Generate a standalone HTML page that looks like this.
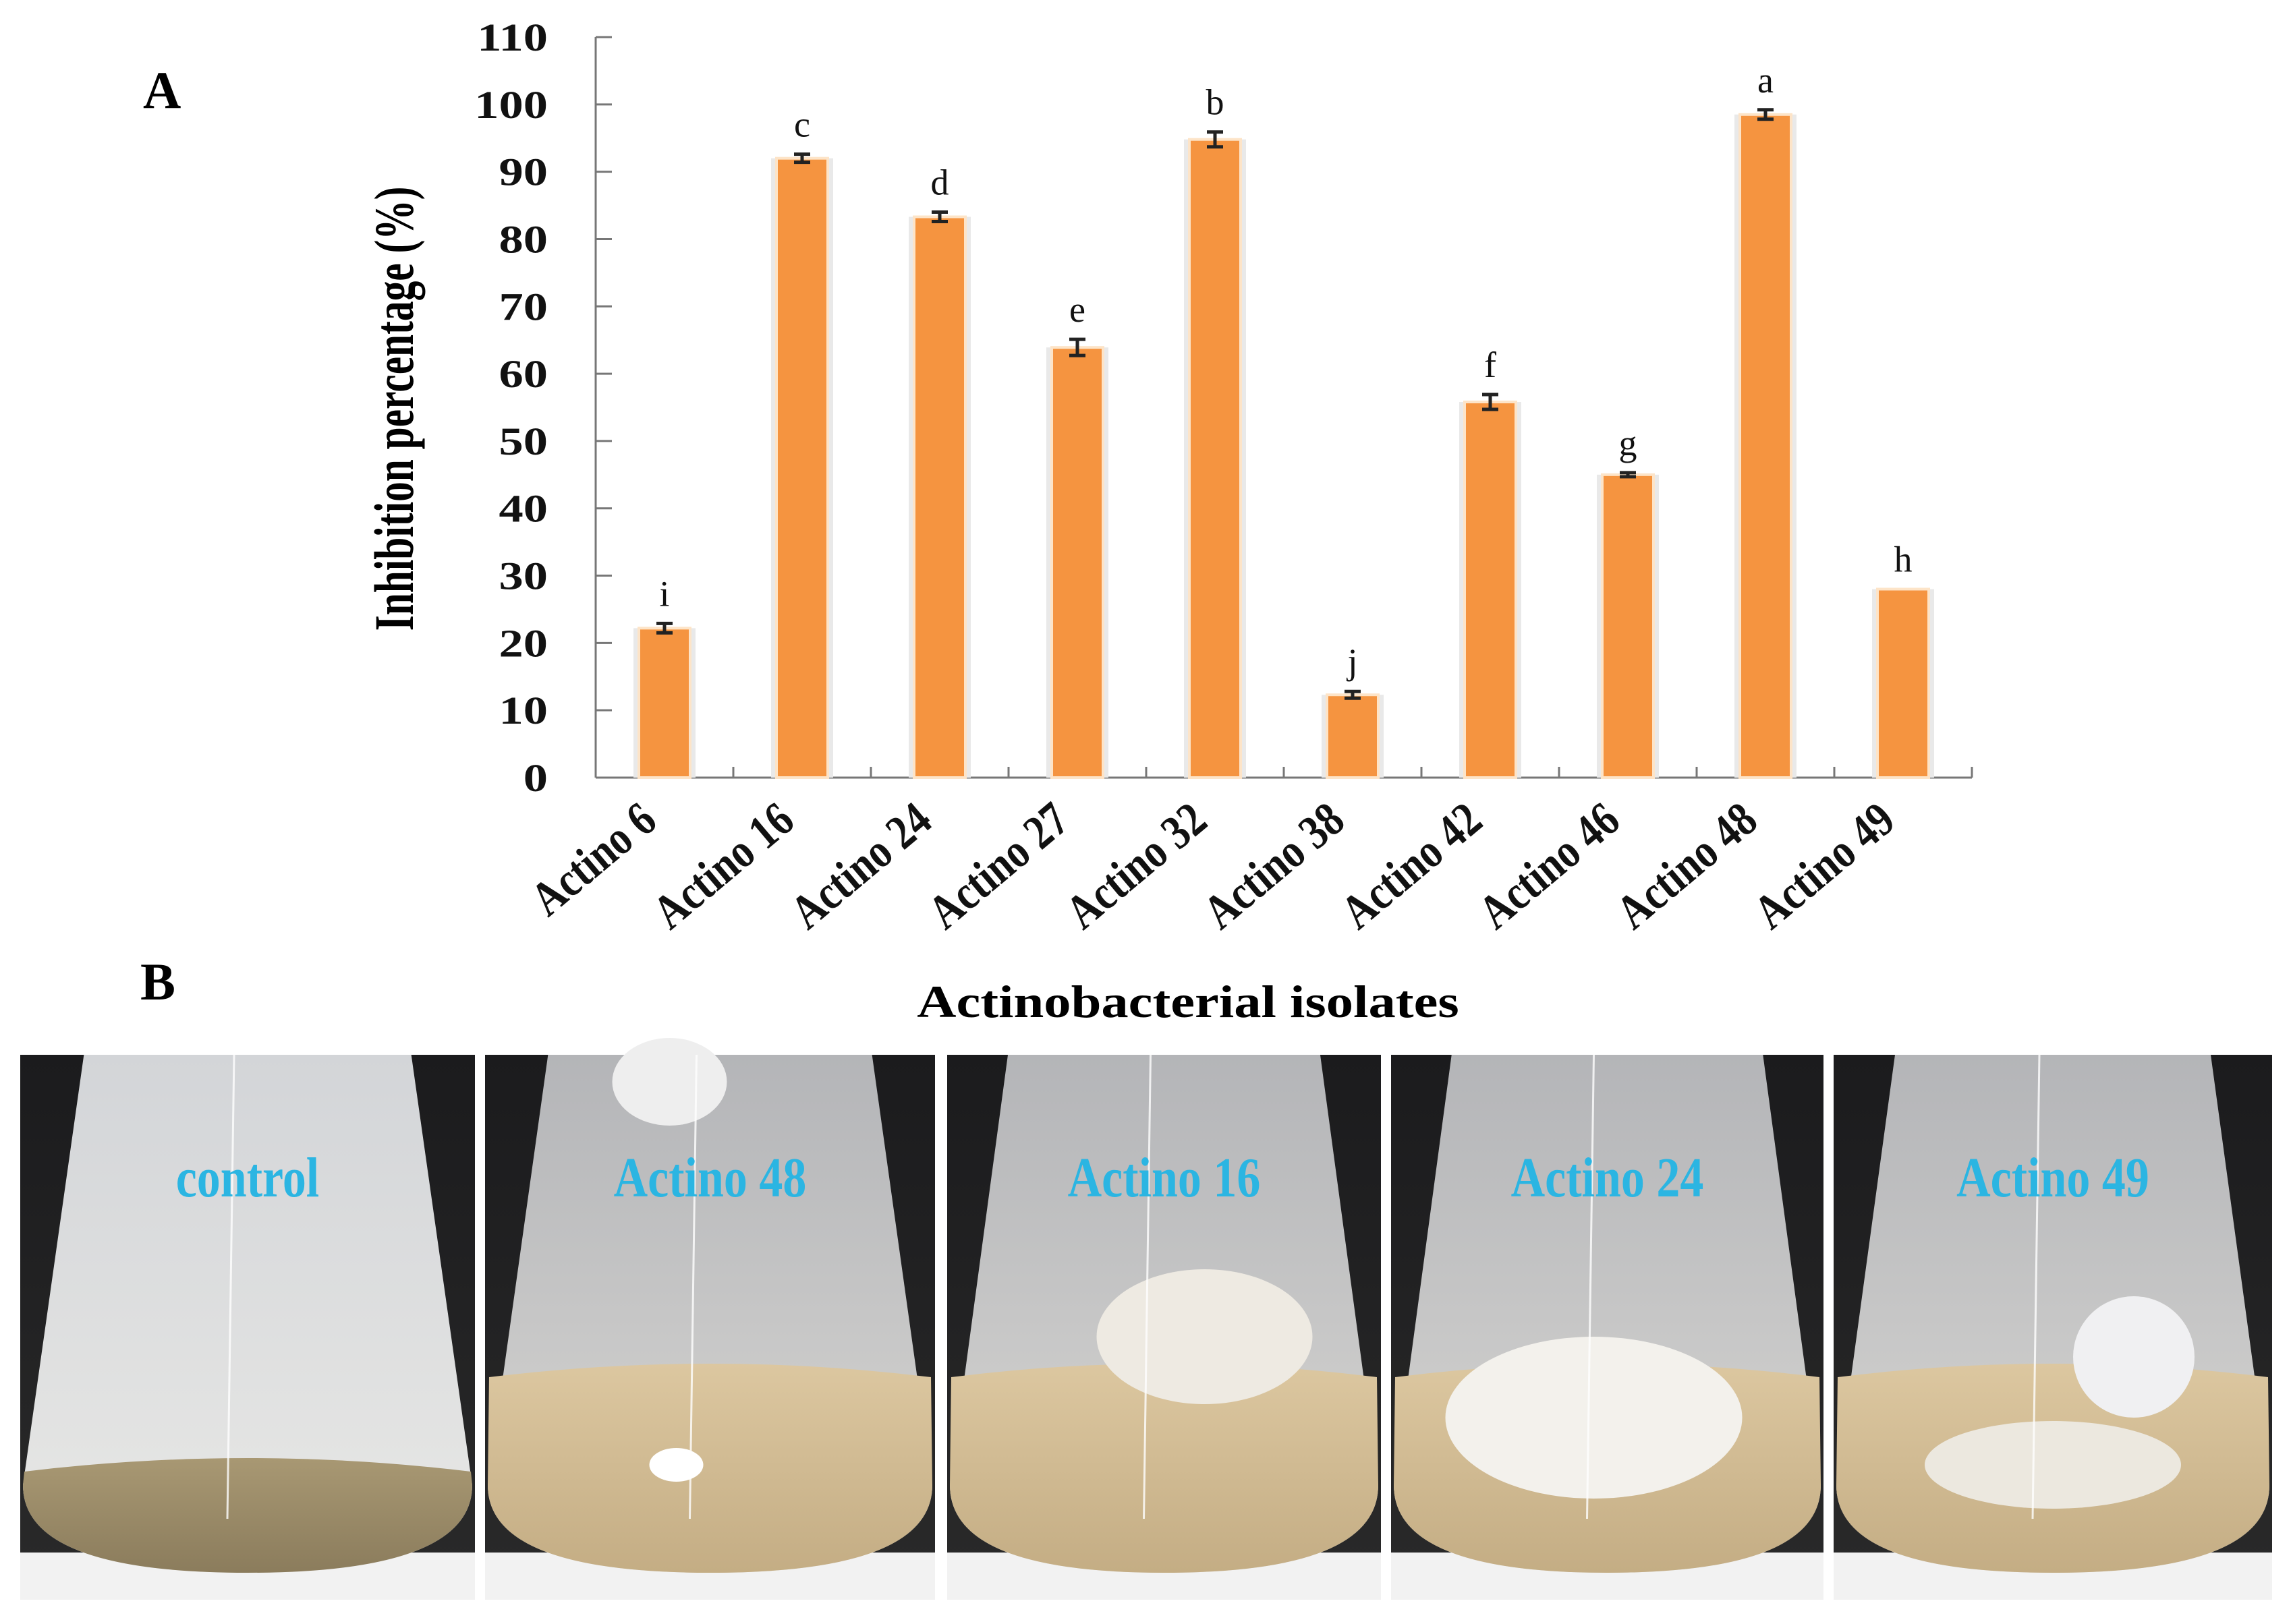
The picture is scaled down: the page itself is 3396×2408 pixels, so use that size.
<!DOCTYPE html>
<html><head><meta charset="utf-8"><style>
html,body{margin:0;padding:0;background:#fff;}
body{width:3396px;height:2403px;position:relative;overflow:hidden;font-family:"Liberation Serif",serif;}
</style></head><body>
<svg id="fig" width="3396" height="2403" viewBox="0 0 3396 2403" xmlns="http://www.w3.org/2000/svg" font-family="Liberation Serif, serif">
<defs>
<linearGradient id="bg" x1="0" y1="0" x2="0" y2="1"><stop offset="0" stop-color="#1b1b1d"/><stop offset="1" stop-color="#2a2a2a"/></linearGradient>
<linearGradient id="liq" x1="0" y1="0" x2="0" y2="1"><stop offset="0" stop-color="#dcc7a0"/><stop offset="1" stop-color="#c4ad84"/></linearGradient>
<linearGradient id="liqc" x1="0" y1="0" x2="0" y2="1"><stop offset="0" stop-color="#a89873"/><stop offset="1" stop-color="#8b7c5c"/></linearGradient>
<linearGradient id="glass" x1="0" y1="0" x2="0" y2="1"><stop offset="0" stop-color="#b4b5b8"/><stop offset="1" stop-color="#d8d7d4"/></linearGradient>
<linearGradient id="ctrl" x1="0" y1="0" x2="0" y2="1"><stop offset="0" stop-color="#d3d5d8"/><stop offset="1" stop-color="#e8e8e6"/></linearGradient>
</defs>
<text x="212" y="160" font-size="78" font-weight="bold">A</text>
<text x="208" y="1482" font-size="78" font-weight="bold">B</text>
<text transform="translate(612,606) rotate(-90) scale(0.9,1.25)" text-anchor="middle" font-size="66" font-weight="bold">Inhibition  percentage (%)</text>
<text text-anchor="middle" font-size="62" font-weight="bold" transform="translate(1761,1508) scale(1.3,1.1)">Actinobacterial isolates</text>
<g id="chart"></g>
<g id="photos"></g>
</svg>
<script>
const categories = ["Actino 6","Actino 16","Actino 24","Actino 27","Actino 32","Actino 38","Actino 42","Actino 46","Actino 48","Actino 49"];
const values = [22.2, 92.0, 83.3, 63.9, 94.8, 12.3, 55.8, 45.0, 98.5, 28.0];
const errors = [0.7, 0.6, 0.7, 1.2, 1.1, 0.5, 1.1, 0.3, 0.7, 0];
const letters = ["i","c","d","e","b","j","f","g","a","h"];
const yTicks = [0,10,20,30,40,50,60,70,80,90,100,110];
const photoLabels = ["control","Actino 48","Actino 16","Actino 24","Actino 49"];

const NS = "http://www.w3.org/2000/svg";
const X0 = 883, X1 = 2923, Y0 = 1153, YMAX = 110, YTOP = 55;
const catW = (X1 - X0) / categories.length;
const barW = 76;
function xScale(i){ return X0 + catW * (i + 0.5); }
function yScale(v){ return Y0 - (Y0 - YTOP) * v / YMAX; }
function mk(tag, attrs, parent){ const e = document.createElementNS(NS, tag); for (const k in attrs) e.setAttribute(k, attrs[k]); parent.appendChild(e); return e; }

const chart = document.getElementById('chart');
const ya = mk('line', {x1:X0, y1:YTOP, x2:X0, y2:Y0, stroke:'#777', 'stroke-width':3}, chart);


const xa = mk('line', {x1:X0, y1:Y0, x2:X1, y2:Y0, stroke:'#777', 'stroke-width':3}, chart);


yTicks.forEach(t => {
  const y = yScale(t);
  const tk = mk('line', {x1:X0, y1:y, x2:X0+24, y2:y, stroke:'#777', 'stroke-width':3}, chart);
  
  
  const lb = mk('text', {transform:`translate(812,${y+20}) scale(1.25,1)`, 'text-anchor':'end', 'font-size':58, 'font-weight':'bold', fill:'#111'}, chart);
  lb.textContent = t;
  
  
});
for (let i = 1; i <= categories.length; i++) {
  const x = X0 + catW * i;
  const tk = mk('line', {x1:x, y1:Y0, x2:x, y2:Y0-16, stroke:'#777', 'stroke-width':3}, chart);
  
  
}
categories.forEach((c, i) => {
  const cx = xScale(i), top = yScale(values[i]);
  const sh = mk('rect', {x:cx-barW/2-8, y:top, width:barW+16, height:Y0-top, fill:'#e9e9e9'}, chart);
  
  
  const b = mk('rect', {x:cx-barW/2, y:top, width:barW, height:Y0-top, fill:'#f59440', stroke:'#fde4c8', 'stroke-width':4}, chart);
  
  
  const e = errors[i];
  let lt = top;
  if (e > 0) {
    const yh = yScale(values[i] + e), yl = yScale(values[i] - e);
    lt = yh;
    const eb = mk('path', {d:`M${cx-12},${yh}H${cx+12}M${cx},${yh}V${yl}M${cx-12},${yl}H${cx+12}`, stroke:'#222', 'stroke-width':5, fill:'none'}, chart);
    
    
  }
  const L = mk('text', {x:cx, y:lt-26, 'text-anchor':'middle', 'font-size':54, fill:'#111'}, chart);
  L.textContent = letters[i];
  
  
  const tl = mk('text', {transform:`translate(${cx-8},${Y0+70}) rotate(-40) scale(1,1.2)`, 'text-anchor':'end', 'font-size':60, 'font-weight':'bold', fill:'#111'}, chart);
  tl.textContent = c;
  
  
});

const photos = document.getElementById('photos');
const panels = [[30,704],[719,1386],[1404,2047],[2062,2703],[2718,3368]];
const PT = 1564, PB = 2372;
panels.forEach((p, i) => {
  const [l, r] = p, w = r - l, h = PB - PT, cx = (l + r) / 2;
  const g = mk('g', {}, photos);
  
  
  mk('rect', {x:l, y:PT, width:w, height:h, fill:'url(#bg)'}, g);
  mk('rect', {x:l, y:PB-70, width:w, height:70, fill:'#f2f2f2'}, g);
  const flask = `M${cx-w*0.36},${PT} L${cx+w*0.36},${PT} L${r-4},${PB-170} Q${r-4},${PB-40} ${cx},${PB-40} Q${l+4},${PB-40} ${l+4},${PB-170} Z`;
  mk('path', {d:flask, fill: i === 0 ? 'url(#ctrl)' : 'url(#glass)'}, g);
  const liqTop = i === 0 ? PB-190 : PB-330;
  mk('path', {d:`M${l+6},${liqTop} Q${cx},${liqTop-40} ${r-6},${liqTop} L${r-4},${PB-170} Q${r-4},${PB-40} ${cx},${PB-40} Q${l+4},${PB-40} ${l+4},${PB-170} Z`, fill: i === 0 ? 'url(#liqc)' : 'url(#liq)'}, g);
  if (i === 2) mk('ellipse', {cx:cx+60, cy:PB-390, rx:160, ry:100, fill:'#eeeae2'}, g);
  if (i === 3) mk('ellipse', {cx:cx-20, cy:PB-270, rx:220, ry:120, fill:'#f3f1ec'}, g);
  if (i === 4) { mk('ellipse', {cx:cx+120, cy:PB-360, rx:90, ry:90, fill:'#f0f0f2'}, g); mk('ellipse', {cx:cx, cy:PB-200, rx:190, ry:65, fill:'#ece8df'}, g); }
  if (i === 1) { mk('ellipse', {cx:cx-60, cy:PT+40, rx:85, ry:65, fill:'#eee'}, g); mk('ellipse', {cx:cx-50, cy:PB-200, rx:40, ry:25, fill:'#fff'}, g); }
  mk('line', {x1:cx-20, y1:PT, x2:cx-30, y2:PB-120, stroke:'#fff', 'stroke-width':3, opacity:0.8}, g);
  const t = mk('text', {'text-anchor':'middle', 'font-size':70, 'font-weight':'bold', fill:'#2bb5e2', transform:`translate(${cx},${PT+210}) scale(1,1.2)`}, g);
  t.textContent = photoLabels[i];
  
  
});
</script>
</body></html>
